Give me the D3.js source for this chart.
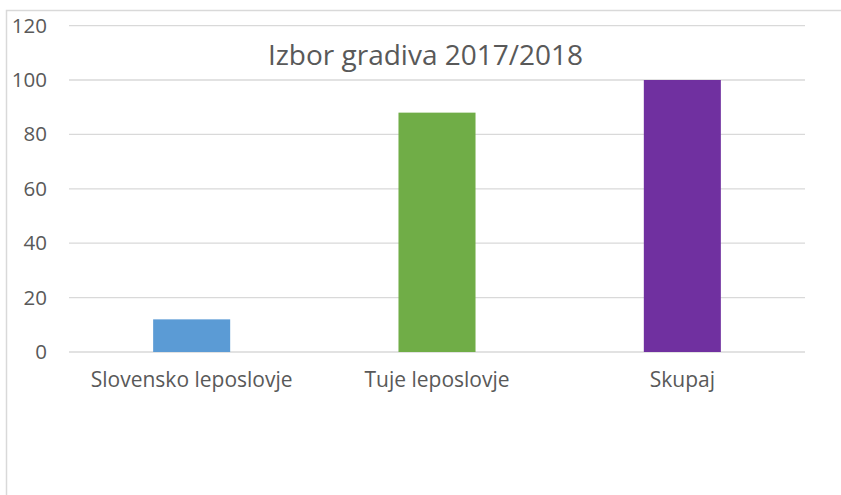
<!DOCTYPE html>
<html>
<head>
<meta charset="utf-8">
<script src="https://cdn.jsdelivr.net/npm/d3@7"></script>
<style>
  body { margin: 0; background: #fff; }
  svg { display: block; }
  text { font-family: "Open Sans", "Noto Sans", sans-serif; fill: #595959; }
</style>
</head>
<body>
<svg id="chart"></svg>
<script>
//chart data
var categories = ["Slovensko leposlovje", "Tuje leposlovje", "Skupaj"];
var values = [12, 88, 100];
var barColors = ["#5B9BD5", "#70AD47", "#7030A0"];
var yTicks = [0, 20, 40, 60, 80, 100, 120];
var title = "Izbor gradiva 2017/2018";

var width = 841, height = 495;
var svg = d3.select("#chart").attr("width", width).attr("height", height);

//chart frame (cut off at right and bottom)
svg.append("rect")
    .attr("x", 6.5).attr("y", 10.5)
    .attr("width", 1000).attr("height", 1000)
    .attr("fill", "none").attr("stroke", "#d9d9d9").attr("stroke-width", 1.5);

//plot area
var plotLeft = 69, plotRight = 805, plotTop = 25.6, plotBottom = 352;

var xScale = d3.scaleBand().domain(categories).range([plotLeft, plotRight])
    .paddingInner(0.686).paddingOuter(0.343);
var yScale = d3.scaleLinear().domain([0, 120]).range([plotBottom, plotTop]);

//gridlines
svg.append("g").selectAll("line").data(yTicks).join("line")
    .attr("x1", plotLeft).attr("x2", plotRight)
    .attr("y1", d => yScale(d)).attr("y2", d => yScale(d))
    .attr("stroke", "#d9d9d9").attr("stroke-width", 1.3);

//y axis labels
var yAxis = d3.axisLeft(yScale).tickValues(yTicks).tickSize(0).tickPadding(0);
var gy = svg.append("g").attr("transform", "translate(47,0)").call(yAxis);
gy.select(".domain").remove();
gy.selectAll("text").attr("font-size", 20.5).attr("fill", "#595959")
    .style("font-family", "'Open Sans', sans-serif");

//bars
svg.append("g").selectAll("rect").data(values).join("rect")
    .attr("x", (d, i) => xScale(categories[i]))
    .attr("width", xScale.bandwidth())
    .attr("y", d => yScale(d))
    .attr("height", d => yScale(0) - yScale(d))
    .attr("fill", (d, i) => barColors[i]);

//x axis labels
var xAxis = d3.axisBottom(xScale).tickSize(0).tickPadding(0);
var gx = svg.append("g").attr("transform", "translate(0,372)").call(xAxis);
gx.select(".domain").remove();
gx.selectAll("text").attr("font-size", 21).attr("fill", "#595959")
    .style("font-family", "'Open Sans', sans-serif");

//title
svg.append("text")
    .attr("x", 425.5).attr("y", 65)
    .attr("text-anchor", "middle")
    .attr("font-size", 28)
    .text(title);
</script>
</body>
</html>
